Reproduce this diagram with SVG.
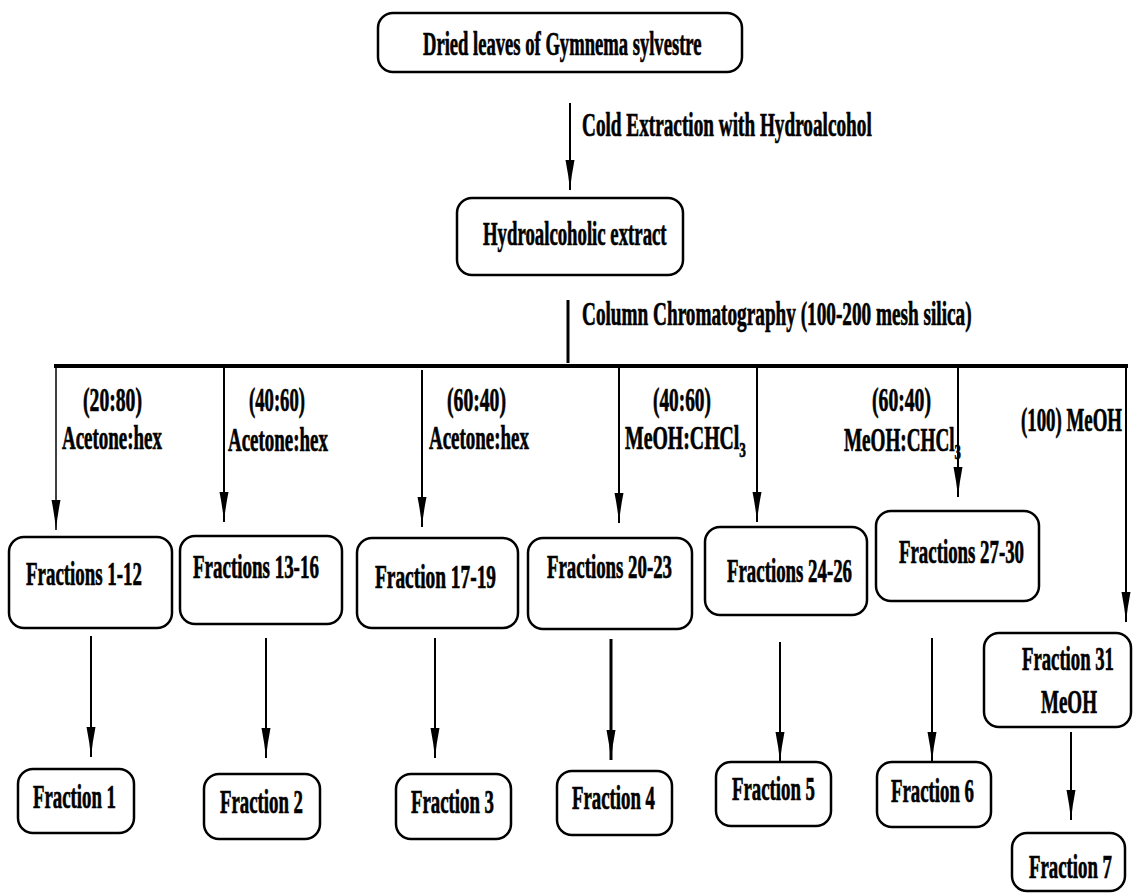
<svg xmlns="http://www.w3.org/2000/svg" width="1134" height="894" viewBox="0 0 1134 894">
<style>
.box{fill:#fff;stroke:#000;stroke-width:2.5}
.t{font-family:"Liberation Serif","Times New Roman",serif;font-weight:bold;font-size:33px;fill:#000;stroke:#000;stroke-width:0.7}
.c{stroke:#000;fill:none;stroke-width:2}
.h{marker-end:url(#ah)}
</style>
<defs>
<marker id="ah" markerUnits="userSpaceOnUse" viewBox="0 -5 30 10" refX="30" refY="0" markerWidth="30" markerHeight="10" orient="auto">
<path d="M30,0 Q15,-1.5 0,-4.5 L0,4.5 Q15,1.5 30,0 Z" fill="#000"/>
</marker>
</defs>
<rect width="1134" height="894" fill="#fff"/>
<g id="connectors">
<line class="c h" x1="570" y1="103" x2="570" y2="190"/>
<line class="c" x1="568" y1="300" x2="568" y2="363" style="stroke-width:3"/>
<line class="c" x1="54" y1="366" x2="1128" y2="366" style="stroke-width:4"/>
<line class="c h" x1="56" y1="366" x2="56" y2="530" style="stroke-width:1.5"/>
<line class="c h" x1="224" y1="366" x2="224" y2="522"/>
<line class="c h" x1="422" y1="370" x2="422" y2="527"/>
<line class="c h" x1="619" y1="366" x2="619" y2="523"/>
<line class="c h" x1="757" y1="366" x2="757" y2="522"/>
<line class="c h" x1="958" y1="366" x2="958" y2="497"/>
<line class="c h" x1="1126" y1="366" x2="1126" y2="622"/>
<line class="c h" x1="91" y1="636" x2="91" y2="757"/>
<line class="c h" x1="266" y1="638" x2="266" y2="758"/>
<line class="c h" x1="435" y1="638" x2="435" y2="758"/>
<line class="c h" x1="611" y1="639" x2="611" y2="760" style="stroke-width:3"/>
<line class="c h" x1="780" y1="642" x2="780" y2="762"/>
<line class="c h" x1="932" y1="638" x2="932" y2="762"/>
<line class="c h" x1="1071" y1="732" x2="1071" y2="820"/>
</g>
<g id="labels">
<text class="t" transform="translate(582,136) scale(0.583,1)">Cold Extraction with Hydroalcohol</text>
<text class="t" transform="translate(582,325) scale(0.583,1)">Column Chromatography (100-200 mesh silica)</text>
<text class="t" transform="translate(83,411) scale(0.596,1)">(20:80)</text>
<text class="t" transform="translate(62,449) scale(0.574,1)">Acetone:hex</text>
<text class="t" transform="translate(249,411) scale(0.566,1)">(40:60)</text>
<text class="t" transform="translate(228,451) scale(0.574,1)">Acetone:hex</text>
<text class="t" transform="translate(447,411) scale(0.596,1)">(60:40)</text>
<text class="t" transform="translate(429,449) scale(0.574,1)">Acetone:hex</text>
<text class="t" transform="translate(653,411) scale(0.585,1)">(40:60)</text>
<text class="t" transform="translate(625,449) scale(0.6,1)">MeOH:CHCl<tspan font-size="22" dy="8">3</tspan></text>
<text class="t" transform="translate(872,411) scale(0.596,1)">(60:40)</text>
<text class="t" transform="translate(844,451) scale(0.58,1)">MeOH:CHCl<tspan font-size="22" dy="8">3</tspan></text>
<text class="t" transform="translate(1021,431) scale(0.571,1)">(100) MeOH</text>
</g>
<g id="n-dried">
<rect class="box" x="378" y="13" width="364" height="59" rx="15"/>
<text class="t" transform="translate(423,55) scale(0.564,1)">Dried leaves of Gymnema sylvestre</text>
</g>
<g id="n-hydro">
<rect class="box" x="457" y="198" width="226" height="77" rx="15"/>
<text class="t" transform="translate(483,245) scale(0.569,1)">Hydroalcoholic extract</text>
</g>
<g id="n-f1-12">
<rect class="box" x="9" y="537" width="163" height="91" rx="15"/>
<text class="t" transform="translate(26,585) scale(0.573,1)">Fractions 1-12</text>
</g>
<g id="n-f13-16">
<rect class="box" x="180" y="536" width="162" height="88" rx="15"/>
<text class="t" transform="translate(193,578) scale(0.575,1)">Fractions 13-16</text>
</g>
<g id="n-f17-19">
<rect class="box" x="357" y="538" width="161" height="90" rx="15"/>
<text class="t" transform="translate(375,588) scale(0.587,1)">Fraction 17-19</text>
</g>
<g id="n-f20-23">
<rect class="box" x="528" y="538" width="164" height="91" rx="15"/>
<text class="t" transform="translate(547,578) scale(0.571,1)">Fractions 20-23</text>
</g>
<g id="n-f24-26">
<rect class="box" x="705" y="527" width="162" height="88" rx="15"/>
<text class="t" transform="translate(727,582) scale(0.571,1)">Fractions 24-26</text>
</g>
<g id="n-f27-30">
<rect class="box" x="876" y="511" width="163" height="90" rx="15"/>
<text class="t" transform="translate(899,563) scale(0.571,1)">Fractions 27-30</text>
</g>
<g id="n-f31">
<rect class="box" x="984" y="633" width="147" height="94" rx="15"/>
<text class="t" transform="translate(1022,670) scale(0.567,1)">Fraction 31</text>
<text class="t" transform="translate(1041,713) scale(0.576,1)">MeOH</text>
</g>
<g id="n-fr1">
<rect class="box" x="18" y="769" width="116" height="64" rx="15"/>
<text class="t" transform="translate(33,808) scale(0.57,1)">Fraction 1</text>
</g>
<g id="n-fr2">
<rect class="box" x="204" y="774" width="116" height="65" rx="15"/>
<text class="t" transform="translate(220,813) scale(0.57,1)">Fraction 2</text>
</g>
<g id="n-fr3">
<rect class="box" x="396" y="774" width="115" height="65" rx="15"/>
<text class="t" transform="translate(411,813) scale(0.57,1)">Fraction 3</text>
</g>
<g id="n-fr4">
<rect class="box" x="557" y="771" width="115" height="64" rx="15"/>
<text class="t" transform="translate(572,809) scale(0.57,1)">Fraction 4</text>
</g>
<g id="n-fr5">
<rect class="box" x="716" y="762" width="115" height="64" rx="15"/>
<text class="t" transform="translate(732,800) scale(0.57,1)">Fraction 5</text>
</g>
<g id="n-fr6">
<rect class="box" x="877" y="762" width="114" height="65" rx="15"/>
<text class="t" transform="translate(891,802) scale(0.57,1)">Fraction 6</text>
</g>
<g id="n-fr7">
<rect class="box" x="1012" y="833" width="113" height="58" rx="15"/>
<text class="t" transform="translate(1029,878) scale(0.57,1)">Fraction 7</text>
</g>
</svg>
